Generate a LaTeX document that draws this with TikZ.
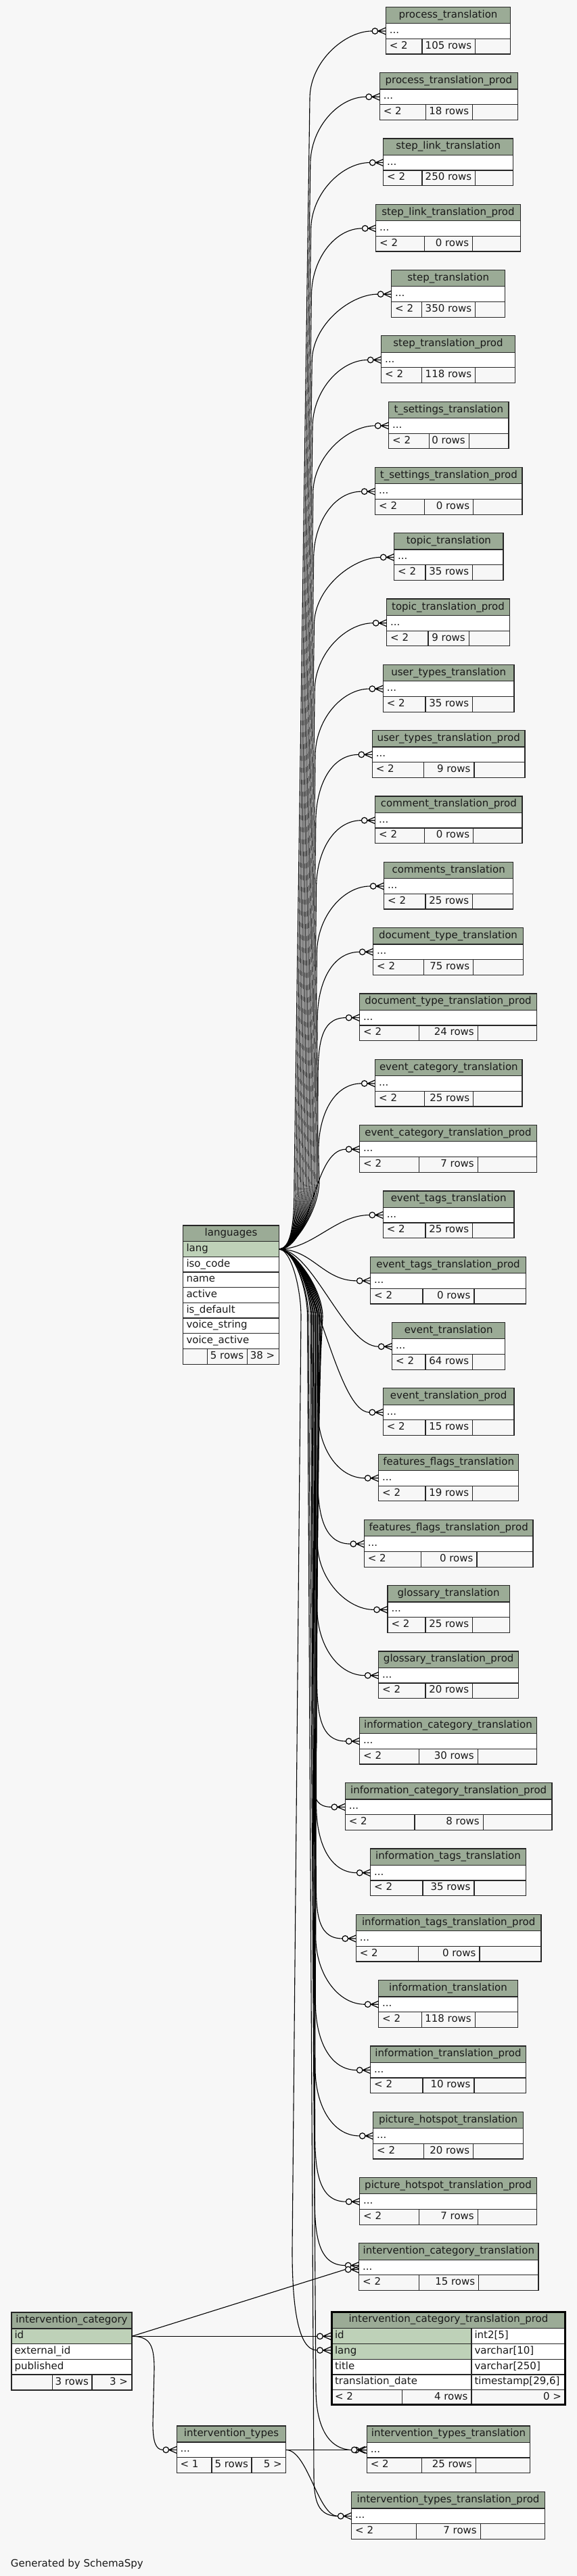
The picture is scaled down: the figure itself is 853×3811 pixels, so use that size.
\documentclass[tikz,border=0pt]{standalone}
\usepackage{fontspec}
\setmainfont{DejaVu Sans}
\usetikzlibrary{calc}
\definecolor{hdr}{HTML}{9BAB96}
\definecolor{keyc}{HTML}{BED1B8}
\definecolor{bgc}{HTML}{F7F7F7}
\tikzset{
  txt/.style={inner sep=0pt, outer sep=0pt, font=\fontsize{15}{18}\selectfont, text=black!90},
  grid/.style={draw=black!85, line width=1.2pt},
  edge/.style={draw=black, line width=1.1pt},
  mkline/.style={draw=black, line width=1.2pt},
}
\newcommand\crowmark[1]{%
  \begin{scope}[shift={(#1)}]
    \draw[mkline, fill=bgc] (4.3,0) circle[radius=4.3pt];
    \draw[mkline] (8.8,0) -- (20.3,-5) (8.8,0) -- (20.3,0) (8.8,0) -- (20.3,5);
  \end{scope}}
% #1 id, #2 top, #3 xl, #4 xr, #5 split1, #6 split2, #7 title, #8 rows
\newcommand\stbl[8]{%
  \fill[hdr] (#3,#2) rectangle (#4,#2+24.3);
  \fill[white] (#3,#2+24.3) rectangle (#4,#2+47);
  \draw[grid] (#3,#2) rectangle (#4,#2+69.7);
  \draw[grid] (#3,#2+24.3) -- (#4,#2+24.3) (#3,#2+47) -- (#4,#2+47)
    (#5,#2+47) -- (#5,#2+69.7) (#6,#2+47) -- (#6,#2+69.7);
  \node[txt,anchor=base] (h#1) at ({(#3+#4)/2},#2+15.9) {#7};
  \node[txt,anchor=base west] (d#1) at (#3+5.5,#2+39.2) {...};
  \node[txt,anchor=base west] (fa#1) at (#3+5.5,#2+61.9) {< 2};
  \node[txt,anchor=base east] (fb#1) at (#6-5.5,#2+61.9) {#8 rows};
  \coordinate (t#1) at (#3-20.3,#2+35.65);
}
\begin{document}
\begin{tikzpicture}[x=1pt,y=-1pt]
\useasboundingbox (0,0) rectangle (853,3811);
\fill[bgc] (0,0) rectangle (853,3811);

% ---------- right column tables
\foreach \i/\xl/\xr/\sa/\sb/\ttl/\rw in {
0/570.3/754.7/624/702.7/process\_translation/105,
1/561.3/765.3/629.3/698.7/process\_translation\_prod/18,
2/566.7/758.7/624/702.7/step\_link\_translation/250,
3/555.7/769.3/627.7/698.7/step\_link\_translation\_prod/0,
4/578.7/746.7/623.7/702.7/step\_translation/350,
5/563.7/761.3/623.7/702.7/step\_translation\_prod/118,
6/574.7/752/634.3/693.3/t\_settings\_translation/0,
7/554.7/772/627.7/699.7/t\_settings\_translation\_prod/0,
8/582.7/744/629/698.7/topic\_translation/35,
9/571.7/753.3/633/693.3/topic\_translation\_prod/9,
10/566.3/760/629/698.7/user\_types\_translation/35,
11/550.3/776/626.3/701/user\_types\_translation\_prod/9,
12/554.7/772/627.7/699.7/comment\_translation\_prod/0,
13/567.7/758.7/629/698.7/comments\_translation/25,
14/551.7/773.3/626.3/699.7/document\_type\_translation/75,
15/531.7/793.3/619.7/706.3/document\_type\_translation\_prod/24,
16/554.7/772/627.7/699.7/event\_category\_translation/25,
17/531.7/793.3/619.7/706.3/event\_category\_translation\_prod/7,
18/566.3/760/629/698.7/event\_tags\_translation/25,
19/547.7/777.3/625/701/event\_tags\_translation\_prod/0,
20/579.7/746.7/629/698.7/event\_translation/64,
21/566.3/760/629/698.7/event\_translation\_prod/15,
22/559.7/766.7/629/698.7/features\_flags\_translation/19,
23/538.3/788/622.3/705/features\_flags\_translation\_prod/0,
24/573/753.3/629/698.7/glossary\_translation/25,
25/559.7/766.7/629/698.7/glossary\_translation\_prod/20,
26/531.7/793.3/619.7/706.3/information\_category\_translation/30,
27/510.3/816/613/714.3/information\_category\_translation\_prod/8,
28/547.7/777.3/625/701/information\_tags\_translation/35,
29/526.3/800/618.3/709/information\_tags\_translation\_prod/0,
30/559.7/765.3/623.7/702.3/information\_translation/118,
31/547.7/777.3/625/701/information\_translation\_prod/10,
32/551.7/773.3/626.3/699.7/picture\_hotspot\_translation/20,
33/531.7/793.3/619.7/706.3/picture\_hotspot\_translation\_prod/7,
34/530.7/796/619.7/707.7/intervention\_category\_translation/15}{
  \pgfmathsetmacro\tp{10.3+97.31*\i}
  \stbl{\i}{\tp}{\xl}{\xr}{\sa}{\sb}{\ttl}{\rw}
}
\stbl{36}{3589}{542.3}{783.7}{623.7}{703.3}{intervention\_types\_translation}{25}
\stbl{37}{3686.7}{519.7}{805.3}{615.7}{710.3}{intervention\_types\_translation\_prod}{7}

\coordinate (t34a) at (510.4,3351.5);
\coordinate (t34b) at (510.4,3357.5);
\coordinate (t35) at (468.7,3477);
\coordinate (t35id) at (468.7,3456.3);
\coordinate (t36x) at (519.4,3624.35);

% ---------- languages
\fill[hdr] (270.7,1813) rectangle (412.3,1836.7);
\fill[keyc] (270.7,1836.7) rectangle (412.3,1859.3);
\fill[white] (270.7,1859.3) rectangle (412.3,1995.3);
\draw[grid] (270.7,1813) rectangle (412.3,2018.7);
\foreach \yy in {1836.7,1859.3,1882,1904.7,1927.3,1950,1972.7,1995.3}{
  \draw[grid] (270.7,\yy) -- (412.3,\yy);}
\draw[grid] (306.7,1995.3) -- (306.7,2018.7) (365.3,1995.3) -- (365.3,2018.7);
\node[txt,anchor=base] (lgT) at (341.5,1828.6) {languages};
\node[txt,anchor=base west] (lg1) at (275.5,1851.5) {lang};
\node[txt,anchor=base west] (lg2) at (275.5,1874.2) {iso\_code};
\node[txt,anchor=base west] (lg3) at (275.5,1896.8) {name};
\node[txt,anchor=base west] (lg4) at (275.5,1919.5) {active};
\node[txt,anchor=base west] (lg5) at (275.5,1942.1) {is\_default};
\node[txt,anchor=base west] (lg6) at (275.5,1964.8) {voice\_string};
\node[txt,anchor=base west] (lg7) at (275.5,1987.4) {voice\_active};
\node[txt,anchor=base east] (lg8) at (360.3,2010.4) {5 rows};
\node[txt,anchor=base east] (lg9) at (406.3,2010.4) {38 >};
\coordinate (lg) at (412.3,1848);

% ---------- intervention_category
\fill[hdr] (17,3421) rectangle (195,3445);
\fill[keyc] (17,3445) rectangle (195,3467.7);
\fill[white] (17,3467.7) rectangle (195,3513);
\draw[grid] (17,3421) rectangle (195,3536);
\draw[grid] (17,3445) -- (195,3445) (17,3467.7) -- (195,3467.7)
  (17,3490.3) -- (195,3490.3) (17,3513) -- (195,3513)
  (77.3,3513) -- (77.3,3536) (136,3513) -- (136,3536);
\node[txt,anchor=base] (icT) at (106,3436.6) {intervention\_category};
\node[txt,anchor=base west] (ic1) at (21.5,3459.8) {id};
\node[txt,anchor=base west] (ic2) at (21.5,3482.5) {external\_id};
\node[txt,anchor=base west] (ic3) at (21.5,3505.2) {published};
\node[txt,anchor=base east] (ic4) at (131,3528) {3 rows};
\node[txt,anchor=base east] (ic5) at (189,3528) {3 >};
\coordinate (icid) at (195,3456.3);

% ---------- intervention_types
\fill[hdr] (261.3,3589) rectangle (422.7,3613);
\fill[white] (261.3,3613) rectangle (422.7,3635.7);
\draw[grid] (261.3,3589) rectangle (422.7,3658.7);
\draw[grid] (261.3,3613) -- (422.7,3613) (261.3,3635.7) -- (422.7,3635.7)
  (313,3635.7) -- (313,3658.7) (372,3635.7) -- (372,3658.7);
\node[txt,anchor=base] (itT) at (342,3604.6) {intervention\_types};
\node[txt,anchor=base west] (it1) at (266.5,3627.8) {...};
\node[txt,anchor=base west] (it2) at (266.5,3650.7) {< 1};
\node[txt,anchor=base east] (it3) at (367,3650.7) {5 rows};
\node[txt,anchor=base east] (it4) at (416.7,3650.7) {5 >};
\coordinate (itl) at (241,3624.35);
\coordinate (itr) at (422.7,3624.35);

% ---------- intervention_category_translation_prod
\fill[hdr] (489,3419) rectangle (836.7,3444.3);
\fill[keyc] (489,3444.3) rectangle (697,3490.3);
\fill[white] (697,3444.3) rectangle (836.7,3490.3);
\fill[white] (489,3490.3) rectangle (836.7,3535.7);
\draw[grid] (489,3444.3) -- (836.7,3444.3) (489,3467.7) -- (836.7,3467.7)
  (489,3490.3) -- (836.7,3490.3) (489,3513) -- (836.7,3513)
  (489,3535.7) -- (836.7,3535.7) (697,3444.3) -- (697,3558.7)
  (594.7,3535.7) -- (594.7,3558.7);
\draw[draw=black, line width=3pt] (490.5,3420.5) rectangle (835.2,3557.2);
\node[txt,anchor=base] (cpT) at (662.9,3435.4) {intervention\_category\_translation\_prod};
\node[txt,anchor=base west] (cp1) at (495,3459.5) {id};
\node[txt,anchor=base west] (cp2) at (495,3482.5) {lang};
\node[txt,anchor=base west] (cp3) at (495,3505.2) {title};
\node[txt,anchor=base west] (cp4) at (495,3527.8) {translation\_date};
\node[txt,anchor=base west] (cp5) at (701.5,3459.5) {int2[5]};
\node[txt,anchor=base west] (cp6) at (701.5,3482.5) {varchar[10]};
\node[txt,anchor=base west] (cp7) at (701.5,3505.2) {varchar[250]};
\node[txt,anchor=base west] (cp8) at (701.5,3527.8) {timestamp[29,6]};
\node[txt,anchor=base west] (cp9) at (495,3550.7) {< 2};
\node[txt,anchor=base east] (cp10) at (691.5,3550.7) {4 rows};
\node[txt,anchor=base east] (cp11) at (830,3550.7) {0 >};

% ---------- edges from languages
\foreach \i in {0,...,16}{
  \pgfmathsetmacro\xa{435+2.3*\i}
  \pgfmathsetmacro\xb{458+0.8*\i}
  \pgfmathsetmacro\yT{45.95+97.31*\i}
  \draw[edge] (lg) .. controls ($(lg)+(22,0)$) and (\xa,1790) .. (\xa,1748)
    -- (\xb,\yT+100) .. controls (\xb,\yT+45) and ($(t\i)+(-40,0)$) .. (t\i);
}
\foreach \i in {17,...,21}{
  \draw[edge] (lg) .. controls ($(lg)+(50,0)$) and ($(t\i)+(-50,0)$) .. (t\i);
}
\foreach \i in {22,...,33}{
  \pgfmathsetmacro\xa{477-1.5*(\i-22)}
  \pgfmathsetmacro\xb{470-0.4*(\i-22)}
  \pgfmathsetmacro\yT{45.95+97.31*\i}
  \draw[edge] (lg) .. controls ($(lg)+(22,0)$) and (\xa,1906) .. (\xa,1948)
    -- (\xb,\yT-100) .. controls (\xb,\yT-45) and ($(t\i)+(-40,0)$) .. (t\i);
}
\draw[edge] (lg) .. controls ($(lg)+(22,0)$) and (459,1906) .. (459,1948)
  -- (465.2,3251.5) .. controls (465.2,3306.5) and (470.4,3351.5) .. (t34a);
\draw[edge] (lg) .. controls ($(lg)+(18,0)$) and (445,1906) .. (445,1948)
  -- (432,3329) .. controls (432,3410) and (440,3477) .. (t35);
\draw[edge] (lg) .. controls ($(lg)+(22,0)$) and (456,1906) .. (456,1948)
  -- (467,3534) .. controls (467,3584) and (482,3624.35) .. (t36);
\draw[edge] (lg) .. controls ($(lg)+(22,0)$) and (454.5,1906) .. (454.5,1948)
  -- (464,3662) .. controls (464,3700) and (470,3722.35) .. (t37);

% ---------- other edges
\draw[edge] (icid) -- (t34b);
\draw[edge] (icid) -- (t35id);
\draw[edge] (icid) .. controls (222,3456.3) and (228,3470) .. (228,3505)
  -- (226,3585) .. controls (226,3612) and (230,3624.35) .. (itl);
\draw[edge] (itr) -- (t36x);
\draw[edge] (itr) .. controls (455,3624.35) and (470,3722.35) .. (t37);

% ---------- markers
\foreach \i in {0,...,33}{\crowmark{t\i}}
\crowmark{t34a}
\crowmark{t34b}
\crowmark{t35}
\crowmark{t35id}
\crowmark{t36}
\crowmark{t36x}
\crowmark{t37}
\crowmark{itl}

\node[txt,anchor=base west] (gen) at (16,3797) {Generated by SchemaSpy};
\end{tikzpicture}
\end{document}
